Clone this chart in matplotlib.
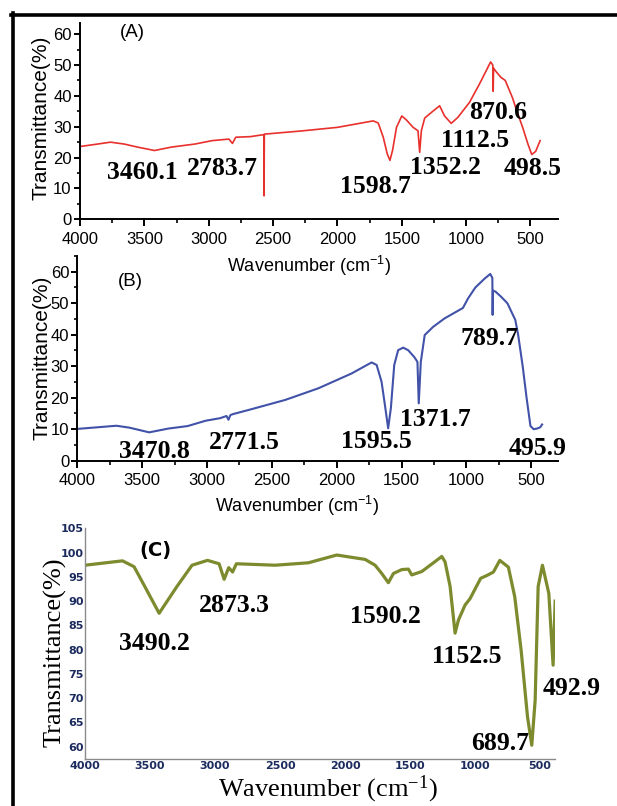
import matplotlib
matplotlib.use('Agg')
import matplotlib.pyplot as plt
from matplotlib.lines import Line2D
from matplotlib.ticker import MultipleLocator

plt.rcParams['font.family'] = ['Liberation Sans', 'DejaVu Sans']
plt.rcParams['mathtext.default'] = 'regular'

# spectrum (A)
a_wn = [4000, 3895, 3763, 3658, 3553, 3421, 3290, 3106, 2974, 2843, 2816, 2790, 2675,
        2580, 2572, 2570, 2568, 2289, 2000, 1722, 1683, 1644, 1613, 1592, 1572, 1541,
        1500, 1464, 1412, 1374, 1361, 1348, 1322, 1271, 1206, 1168, 1116, 1065, 974,
        897, 840, 810, 793, 790, 787, 770, 730, 696, 640, 606, 561, 520, 490, 460, 425]
a_t = [23.6, 24.2, 25.0, 24.4, 23.4, 22.3, 23.4, 24.4, 25.5, 26.0, 24.6, 26.6, 26.8,
       27.4, 27.4, 7.6, 27.6, 28.6, 29.8, 31.9, 31.2, 26.6, 21.2, 19.1, 22.3, 29.8,
       33.5, 32.2, 29.8, 28.7, 21.7, 28.7, 32.8, 34.6, 36.8, 33.5, 31.1, 33.0, 37.9,
       43.8, 48.5, 51.0, 50.0, 41.5, 49.0, 48.0, 46.0, 45.0, 39.4, 35.1, 29.8, 24.4,
       21.0, 22.0, 25.5]
a_peaks = ['3460.1', '2783.7', '1598.7', '1352.2', '1112.5', '870.6', '498.5']
a_peak_xy = [(3514, 15.3), (2891, 16.5), (1704, 10.5), (1158, 16.9), (930, 25.5),
             (750, 34.6), (483, 16.5)]

# spectrum (B)
b_wn = [4000, 3850, 3700, 3600, 3447, 3300, 3150, 3011, 2900, 2850, 2835, 2820, 2800,
        2654, 2397, 2141, 1885, 1731, 1692, 1654, 1628, 1603, 1582, 1556, 1526, 1487,
        1449, 1403, 1377, 1367, 1351, 1321, 1256, 1167, 1026, 987, 930, 859, 815, 799,
        797, 794, 775, 730, 683, 622, 600, 565, 535, 505, 480, 455, 430, 415]
b_t = [10.1, 10.6, 11.1, 10.5, 9.0, 10.2, 11.0, 12.7, 13.5, 14.2, 13.0, 14.5, 14.8,
       16.4, 19.3, 23.0, 27.7, 31.2, 30.4, 25.1, 17.7, 10.3, 16.7, 30.4, 35.1, 35.9,
       35.1, 33.0, 31.4, 18.2, 31.4, 39.9, 42.5, 45.2, 48.5, 51.5, 55.0, 57.8, 59.3,
       58.0, 46.3, 54.0, 53.7, 52.0, 50.0, 44.7, 40.0, 30.0, 20.0, 11.0, 10.0, 10.2,
       10.6, 11.5]
b_peaks = ['3470.8', '2771.5', '1595.5', '1371.7', '789.7', '495.9']
b_peak_xy = [(3407, 2.9), (2710, 5.7), (1694, 6.0), (1238, 13.2), (819, 38.9),
             (451, 3.9)]

# spectrum (C)
c_wn = [4000, 3712, 3623, 3530, 3430, 3296, 3177, 3058, 2969, 2930, 2895, 2865, 2836,
        2538, 2282, 2064, 1846, 1769, 1718, 1667, 1628, 1564, 1513, 1487, 1410, 1256,
        1231, 1192, 1154, 1128, 1077, 1039, 957, 908, 859, 810, 744, 695, 646, 597,
        564, 538, 515, 482, 433, 400, 384]
c_t = [97.4, 98.3, 97.1, 92.5, 87.5, 92.9, 97.4, 98.4, 97.7, 94.5, 96.9, 96.0, 97.7,
       97.4, 97.9, 99.5, 98.6, 97.4, 95.7, 93.8, 95.7, 96.5, 96.6, 95.4, 96.1, 99.2,
       98.1, 93.0, 83.4, 86.1, 89.2, 90.5, 94.7, 95.3, 96.0, 98.4, 97.0, 90.9, 79.9,
       66.2, 60.3, 69.6, 93.0, 97.4, 91.6, 76.8, 90.0]
c_peaks = ['3490.2', '2873.3', '1590.2', '1152.5', '689.7', '492.9']
c_peak_xy = [(3469, 81.3), (2848, 89.0), (1686, 86.8), (1065, 78.5), (810, 60.7),
             (258, 72.0)]

fig = plt.figure(figsize=(6.17, 8.06), dpi=100)

peak_font = dict(family='Liberation Serif', fontweight='bold', fontsize=18.5,
                 ha='center', va='center')


def origin_axes(rect, wn, t, color, lw, ytop, peaks, peak_xy, tag, xlab_pos, ylab_pos, tag_pos):
    ax = fig.add_axes(rect)
    ax.plot(wn, t, color=color, lw=lw)
    ax.set_xlim(4000, 290)
    ax.set_ylim(0, ytop)
    ax.spines['top'].set_visible(False)
    ax.spines['right'].set_visible(False)
    for s in ['left', 'bottom']:
        ax.spines[s].set_linewidth(1.4)
    ax.xaxis.set_major_locator(MultipleLocator(500))
    ax.xaxis.set_minor_locator(MultipleLocator(250))
    ax.yaxis.set_major_locator(MultipleLocator(10))
    ax.yaxis.set_minor_locator(MultipleLocator(5))
    ax.set_xticks(range(4000, 499, -500))
    ax.set_yticks(range(0, 61, 10))
    ax.tick_params(axis='x', which='major', length=5, width=1.4, labelsize=12, pad=4)
    ax.tick_params(axis='x', which='minor', length=3, width=1.2)
    ax.tick_params(axis='y', which='major', length=4, width=1.4, labelsize=12, pad=2)
    ax.tick_params(axis='y', which='minor', length=2.5, width=1.2)
    ax.set_xlabel('Wavenumber (cm$^{-1}$)', fontsize=13)
    ax.xaxis.set_label_coords(*xlab_pos)
    ax.set_ylabel('Transmittance(%)', fontsize=15)
    ax.yaxis.set_label_coords(*ylab_pos)
    ax.text(tag_pos[0], tag_pos[1], tag, transform=ax.transAxes, fontsize=13.5,
            ha='center', va='center')
    for lab, (x, y) in zip(peaks, peak_xy):
        ax.text(x, y, lab, clip_on=False, **peak_font)
    ax.patch.set_alpha(0)
    return ax


origin_axes([0.1297, 0.7279, 0.7739, 0.2431], a_wn, a_t, '#e8302c', 1.2, 63.5,
            a_peaks, a_peak_xy, '(A)', (0.479, -0.174), (-0.061, 0.517), (0.109, 0.951))
origin_axes([0.1256, 0.4284, 0.7793, 0.254], b_wn, b_t, '#4152a8', 1.5, 65,
            b_peaks, b_peak_xy, '(B)', (0.456, -0.163), (-0.055, 0.502), (0.111, 0.873))

# panel (C), spreadsheet style
axc = fig.add_axes([0.1378, 0.0579, 0.7618, 0.2866])
axc.plot(c_wn, c_t, color='#7d8a2e', lw=2.3)
axc.set_xlim(4000, 385)
axc.set_ylim(57.4, 105)
axc.spines['top'].set_visible(False)
axc.spines['right'].set_visible(False)
for s in ['left', 'bottom']:
    axc.spines[s].set_color('#8a8a8a')
    axc.spines[s].set_linewidth(1.0)
axc.set_xticks(range(4000, 499, -500))
axc.set_yticks(range(60, 106, 5))
axc.tick_params(length=0, pad=1, labelcolor='#1c2b5e')
for lab in axc.get_xticklabels() + axc.get_yticklabels():
    lab.set_family('DejaVu Sans')
    lab.set_fontweight('bold')
    lab.set_fontsize(8)
axc.set_xlabel('Wavenumber (cm$^{-1}$)', family='Liberation Serif', fontsize=19)
axc.xaxis.set_label_coords(0.517, -0.061)
axc.set_ylabel('Transmittance(%)', family='Liberation Serif', fontsize=19)
axc.yaxis.set_label_coords(-0.040, 0.464)
axc.text(0.149, 0.905, '(C)', transform=axc.transAxes, family='DejaVu Sans',
         fontweight='bold', fontsize=14, ha='center', va='center')
for lab, (x, y) in zip(c_peaks, c_peak_xy):
    axc.text(x, y, lab, clip_on=False, **peak_font)

# black frame on top and left
fig.add_artist(Line2D([11 / 617, 1], [1 - 14.5 / 806, 1 - 14.5 / 806],
                      transform=fig.transFigure, color='black', lw=2.6))
fig.add_artist(Line2D([13.3 / 617, 13.3 / 617], [0, 1 - 12.5 / 806],
                      transform=fig.transFigure, color='black', lw=2.6))

fig.savefig('out.png', dpi=100)
